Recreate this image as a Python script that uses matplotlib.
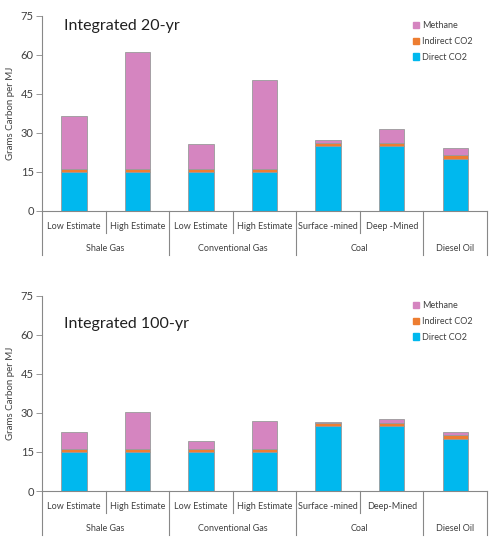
import matplotlib
matplotlib.use("Agg")
import matplotlib.pyplot as plt
import matplotlib.transforms as mtransforms
from matplotlib.patches import Patch

plt.rcParams['font.family'] = ['Lato', 'DejaVu Sans']

# data (grams carbon per MJ)
categories_20 = ["Low Estimate", "High Estimate", "Low Estimate", "High Estimate",
                 "Surface -mined", "Deep -Mined", ""]
categories_100 = ["Low Estimate", "High Estimate", "Low Estimate", "High Estimate",
                  "Surface -mined", "Deep-Mined", ""]
groups = ["Shale Gas", "Conventional Gas", "Coal", "Diesel Oil"]
group_sizes = [2, 2, 2, 1]

direct_co2 = [15, 15, 15, 15, 25, 25, 20]
indirect_co2 = [1.1, 1.1, 1.1, 1.1, 1.0, 1.0, 1.6]
methane_20 = [20.6, 45.0, 9.6, 34.1, 1.4, 5.4, 2.7]
methane_100 = [6.7, 14.4, 3.3, 10.7, 0.4, 1.7, 1.1]

yticks = [0, 15, 30, 45, 60, 75]

c_direct = "#00B8EE"
c_indirect = "#ED7D31"
c_methane = "#D585C0"
edge = "#9A9A9A"
txt = "#404040"


def panel(ax, methane, cats, title, title_y):
    x = list(range(len(direct_co2)))
    base2 = [d + i for d, i in zip(direct_co2, indirect_co2)]
    ax.bar(x, direct_co2, 0.4, color=c_direct, edgecolor=edge, linewidth=0.6)
    ax.bar(x, indirect_co2, 0.4, bottom=direct_co2, color=c_indirect,
           edgecolor=edge, linewidth=0.6)
    ax.bar(x, methane, 0.4, bottom=base2, color=c_methane, edgecolor=edge,
           linewidth=0.6)

    ax.set_xlim(-0.5, len(x) - 0.5)
    ax.set_ylim(0, 75)
    ax.set_yticks(yticks)
    ax.tick_params(axis='y', labelsize=8, colors='#888888', length=4,
                   width=0.6, direction='out', pad=2)
    for lab in ax.get_yticklabels():
        lab.set_color(txt)
    ax.set_xticks([])
    for s in ['top', 'right']:
        ax.spines[s].set_visible(False)
    for s in ['left', 'bottom']:
        ax.spines[s].set_color('#888888')
        ax.spines[s].set_linewidth(0.8)
    ax.set_ylabel("Grams Carbon per MJ", fontsize=7, color=txt, labelpad=4)

    trans = mtransforms.blended_transform_factory(ax.transData, ax.transAxes)
    # category row
    for xi, c in zip(x, cats):
        ax.text(xi, -0.082, c, transform=trans, ha='center', va='center',
                fontsize=6.5, color=txt)
    # separators
    long_pos = [-0.5]
    start = -0.5
    for g, n in zip(groups, group_sizes):
        ax.text(start + n / 2, -0.19, g, transform=trans, ha='center',
                va='center', fontsize=6.5, color=txt)
        for k in range(1, n):
            ax.plot([start + k, start + k], [0, -0.113], transform=trans,
                    color='#888888', lw=0.8, clip_on=False)
        start += n
        long_pos.append(start)
    for p in long_pos:
        ax.plot([p, p], [0, -0.226], transform=trans, color='#888888',
                lw=0.8, clip_on=False)

    ax.text(0.05, title_y, title, transform=ax.transAxes, fontsize=11.5,
            color='#202020', va='center', ha='left')

    handles = [Patch(color=c_methane, label="Methane"),
               Patch(color=c_indirect, label="Indirect CO2"),
               Patch(color=c_direct, label="Direct CO2")]
    ax.legend(handles=handles, loc='upper left', bbox_to_anchor=(0.815, 1.015),
              frameon=False, fontsize=6.5, handlelength=0.7, handleheight=0.7,
              handletextpad=0.3, labelspacing=0.75, labelcolor=txt)


fig = plt.figure(figsize=(4.92, 5.52), dpi=100)
ax1 = fig.add_axes((0.0854, 0.6178, 0.9046, 0.3533))
ax2 = fig.add_axes((0.0854, 0.1105, 0.9046, 0.3533))
panel(ax1, methane_20, categories_20, "Integrated 20-yr", 0.949)
panel(ax2, methane_100, categories_100, "Integrated 100-yr", 0.856)

fig.savefig("out.png", dpi=100)
